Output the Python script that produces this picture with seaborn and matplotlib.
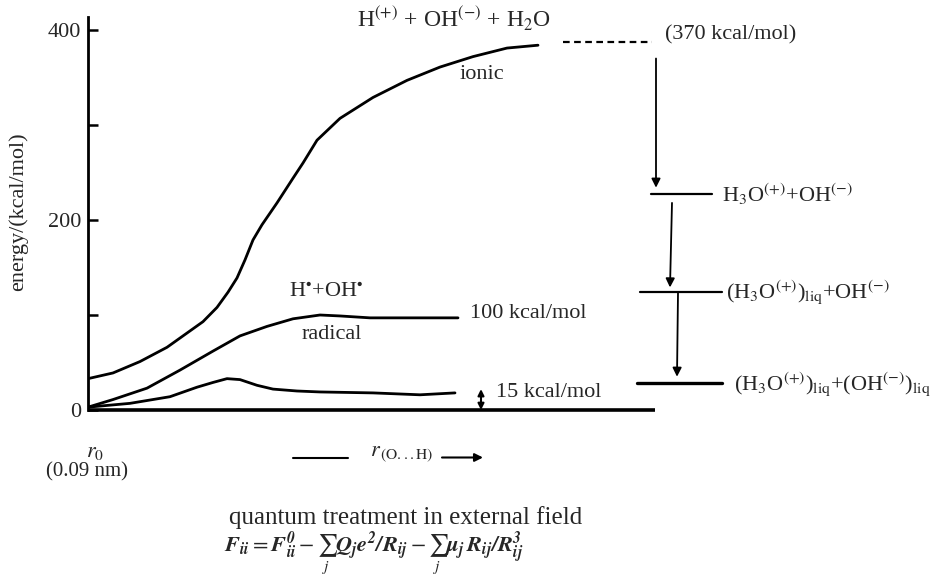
import matplotlib
matplotlib.use('Agg')
import matplotlib.pyplot as plt
import seaborn as sns
import pandas as pd

# reaction coordinate r (arbitrary units, r0 = 0) and energies in kcal/mol
ionic_r = [0, 0.25, 0.52, 0.79, 0.99, 1.15, 1.29, 1.40, 1.49, 1.57, 1.65, 1.74, 1.89,
           2.05, 2.15, 2.29, 2.52, 2.85, 3.19, 3.52, 3.85, 4.19, 4.50]
ionic_e = [33, 39, 51, 66, 81, 93, 108, 124, 139, 158, 179, 195, 218,
           244, 260, 284, 307, 329, 347, 361, 372, 381, 384]

radical_r = [0, 0.25, 0.59, 0.92, 1.25, 1.52, 1.79, 2.05, 2.32, 2.52, 2.82, 3.19, 3.70]
radical_e = [3, 11, 23, 42, 62, 78, 88, 96, 100, 99, 97, 97, 97]

low_r = [0, 0.42, 0.82, 1.09, 1.25, 1.39, 1.52, 1.69, 1.85, 2.09, 2.32, 2.85, 3.32, 3.67]
low_e = [3, 7, 14, 24, 29, 33, 32, 26, 22, 20, 19, 18, 16, 18]

# energy levels of the right-hand scheme
level_names = ['H$_3$O$^{(+)}$+OH$^{(-)}$',
               '(H$_3$O$^{(+)}$)$_{\\rm liq}$+OH$^{(-)}$',
               '(H$_3$O$^{(+)}$)$_{\\rm liq}$+(OH$^{(-)}$)$_{\\rm liq}$']
level_e = [227, 124, 28]
level_r0 = [5.63, 5.52, 5.49]
level_r1 = [6.24, 6.34, 6.34]
gas_e = 387
yticks = [0, 100, 200, 300, 400]
ytick_labels = ['0', '', '200', '', '400']

sns.set_style('ticks')
plt.rcParams['font.family'] = ['Liberation Serif', 'DejaVu Serif']
plt.rcParams['mathtext.fontset'] = 'stix'

fig = plt.figure(figsize=(9.52, 5.87), dpi=100)
ax = fig.add_axes([88 / 952, 177 / 587, 864 / 952, 393 / 587])

curves = pd.concat([
    pd.DataFrame({'r': ionic_r, 'E': ionic_e, 'state': 'ionic'}),
    pd.DataFrame({'r': radical_r, 'E': radical_e, 'state': 'radical'}),
    pd.DataFrame({'r': low_r, 'E': low_e, 'state': 'low'}),
])
sns.lineplot(data=curves, x='r', y='E', units='state', estimator=None, sort=False,
             color='black', lw=2.0, ax=ax, legend=False,
             solid_joinstyle='round', solid_capstyle='round')

ax.set_xlim(0, 8.64)
ax.set_ylim(0, 413.7)
ax.set_xticks([])
ax.set_yticks(yticks)
ax.set_yticklabels(ytick_labels, fontsize=16)
ax.tick_params(axis='y', direction='in', length=7, width=1.8, pad=5, color='black')
for s in ['top', 'right', 'bottom']:
    ax.spines[s].set_visible(False)
ax.spines['left'].set_linewidth(2.0)
ax.spines['left'].set_color('black')
ax.set_xlabel('')
ax.set_ylabel('energy/(kcal/mol)', fontsize=16)
ax.yaxis.set_label_coords(-0.069, 0.505)

# baseline
ax.plot([0, 5.67], [0, 0], color='black', lw=2.6, clip_on=False, solid_capstyle='butt')

# level scheme
ax.plot([4.75, 5.64], [gas_e, gas_e], color='black', lw=1.6, ls=(0, (3, 2)))
for e, a, b in zip(level_e, level_r0, level_r1):
    ax.plot([a, b], [e, e], color='black', lw=1.6 if e > 50 else 2.4)
arrow = dict(arrowstyle='-|>', color='black', lw=1.3, mutation_scale=13, shrinkA=0, shrinkB=0)
ax.annotate('', xy=(5.68, 234), xytext=(5.68, 370), arrowprops=arrow)
ax.annotate('', xy=(5.82, 129), xytext=(5.84, 218), arrowprops=arrow)
ax.annotate('', xy=(5.89, 35), xytext=(5.90, 123), arrowprops=arrow)

fs = 16
ax.text(2.69, 413, 'H$^{(+)}$ + OH$^{(-)}$ + H$_2$O', fontsize=17, va='center', ha='left',
        clip_on=False)
ax.text(3.94, 353, 'ionic', fontsize=fs, va='center', ha='center')
ax.text(5.77, 395, '(370 kcal/mol)', fontsize=fs, va='center', ha='left')
ax.text(6.34, 227, level_names[0], fontsize=fs, va='center', ha='left')
ax.text(6.38, 124, level_names[1], fontsize=fs, va='center', ha='left')
ax.text(6.46, 27, level_names[2], fontsize=fs, va='center', ha='left')
ax.text(3.82, 102, '100 kcal/mol', fontsize=fs, va='center', ha='left')
ax.text(4.08, 18, '15 kcal/mol', fontsize=fs, va='center', ha='left')
ax.text(2.38, 124, 'H$^{\\bullet}$+OH$^{\\bullet}$', fontsize=fs, va='center', ha='center')
ax.text(2.44, 80, 'radical', fontsize=fs, va='center', ha='center')
ax.annotate('', xy=(3.93, 22), xytext=(3.93, 0),
            arrowprops=dict(arrowstyle='<|-|>', color='black', lw=1.5, mutation_scale=9,
                            shrinkA=0, shrinkB=0))

# x axis description
ax.text(0.07, -45, '$r_0$', fontsize=fs, va='center', ha='center', clip_on=False)
ax.text(-0.01, -65, '(0.09 nm)', fontsize=15, va='center', ha='center', clip_on=False)
ax.plot([2.05, 2.60], [-51, -51], color='black', lw=1.5, clip_on=False)
ax.text(2.82, -47, '$r_{\\,\\mathrm{(O...H)}}$', fontsize=fs, va='center', ha='left', clip_on=False)
ax.annotate('', xy=(3.95, -50), xytext=(3.54, -50),
            arrowprops=dict(arrowstyle='-|>', color='black', lw=1.5, mutation_scale=12,
                            shrinkA=0, shrinkB=0), annotation_clip=False)

ax.text(3.18, -113, 'quantum treatment in external field', fontsize=18, va='center',
        ha='center', clip_on=False)
ax.text(2.86, -152,
        r'$\mathbfit{F_{ii}} = \mathbfit{F^0_{ii}} - \sum_j \mathbfit{Q_j e^2/R_{ij}}'
        r' - \sum_j \mathbfit{\mu_j\, R_{ij}/R^3_{ij}}$',
        fontsize=fs, va='center', ha='center', clip_on=False)

fig.savefig('out.png', dpi=100, facecolor='white')
